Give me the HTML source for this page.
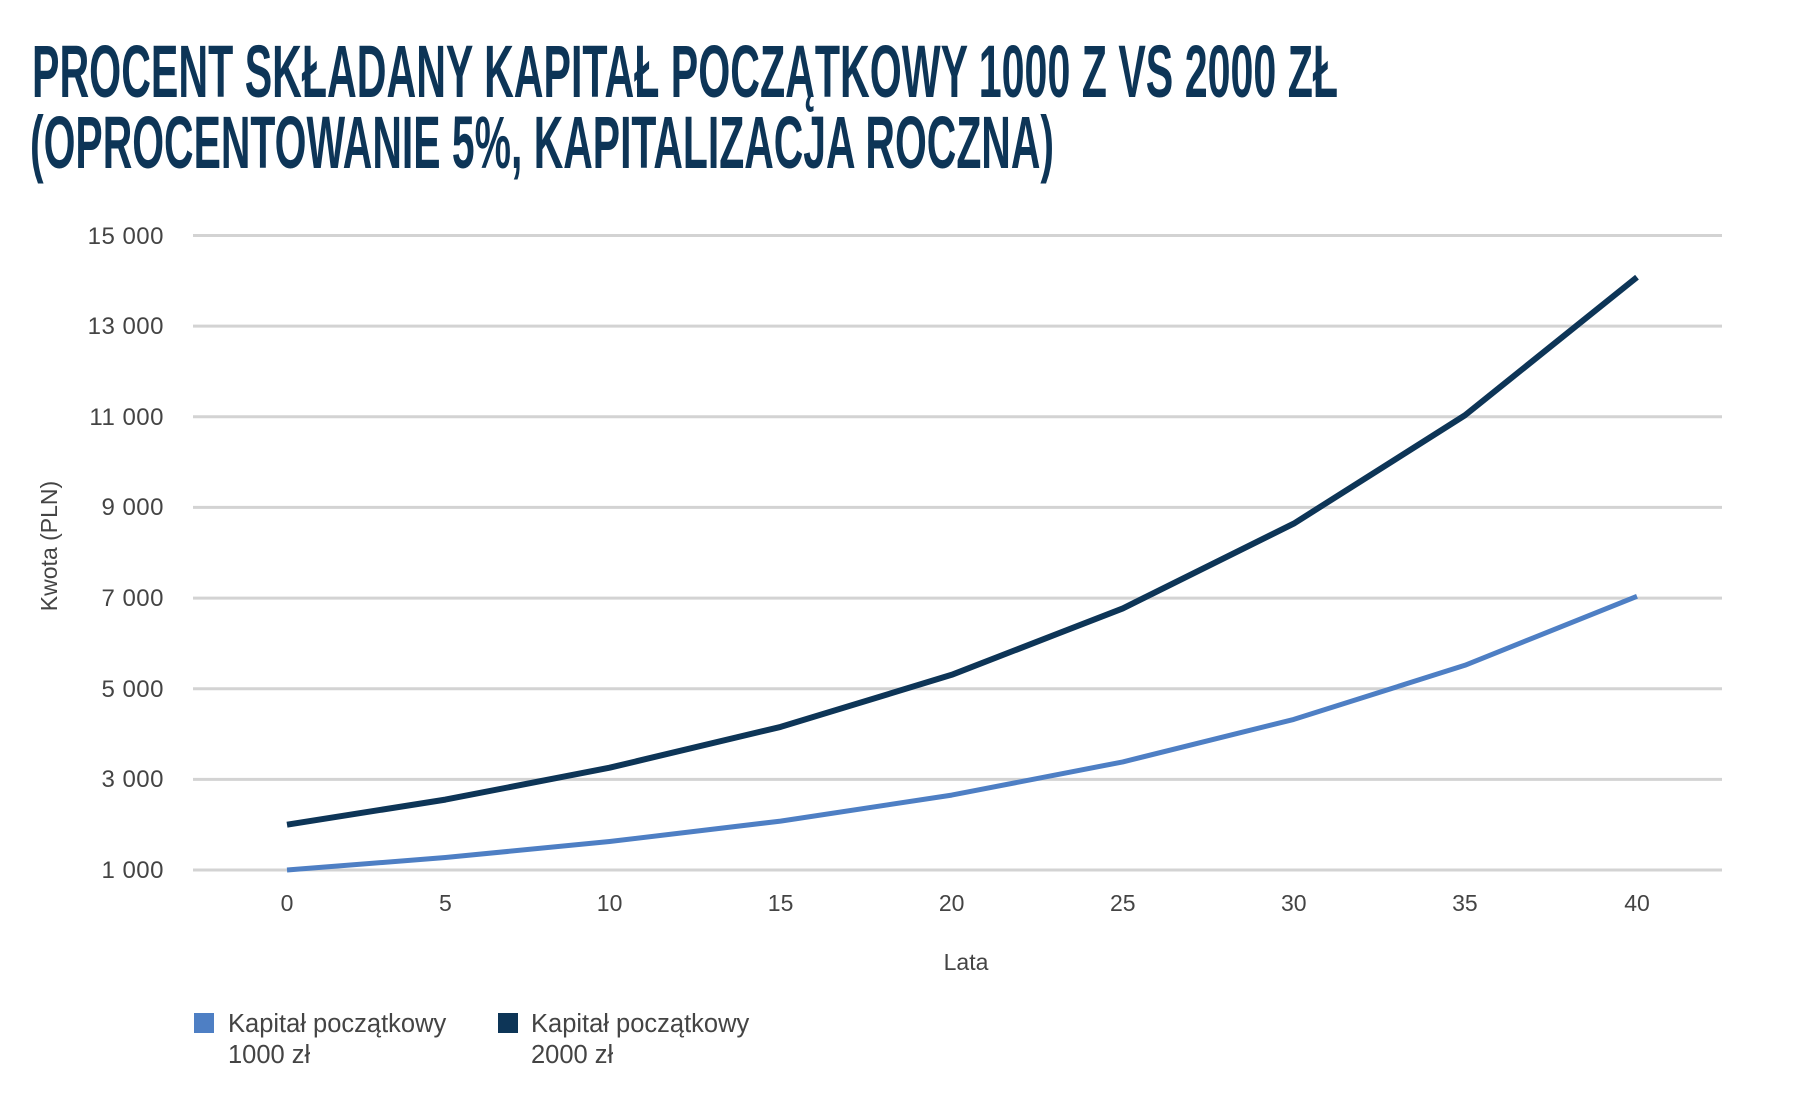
<!DOCTYPE html>
<html><head><meta charset="utf-8"><style>
html,body{margin:0;padding:0;background:#fff;}
svg{display:block}
</style></head><body>
<svg width="1800" height="1100" viewBox="0 0 1800 1100" xmlns="http://www.w3.org/2000/svg" font-family="Liberation Sans, DejaVu Sans, sans-serif">
<rect width="1800" height="1100" fill="#fff"/>
<g fill="#0d3557" font-weight="bold" font-size="74">
<text x="32" y="97" textLength="1306" lengthAdjust="spacingAndGlyphs">PROCENT SKŁADANY KAPITAŁ POCZĄTKOWY 1000 Z VS 2000 ZŁ</text>
<text x="30" y="168" textLength="1024" lengthAdjust="spacingAndGlyphs">(OPROCENTOWANIE 5%, KAPITALIZACJA ROCZNA)</text>
</g>
<g stroke="#d3d3d3" stroke-width="3">
<line x1="193" x2="1722" y1="235.5" y2="235.5"/>
<line x1="193" x2="1722" y1="326.1" y2="326.1"/>
<line x1="193" x2="1722" y1="416.8" y2="416.8"/>
<line x1="193" x2="1722" y1="507.4" y2="507.4"/>
<line x1="193" x2="1722" y1="598.1" y2="598.1"/>
<line x1="193" x2="1722" y1="688.7" y2="688.7"/>
<line x1="193" x2="1722" y1="779.4" y2="779.4"/>
<line x1="193" x2="1722" y1="870" y2="870"/>
</g>
<g fill="#444" font-size="24" text-anchor="end" letter-spacing="0.5">
<text x="164" y="244">15 000</text>
<text x="164" y="334">13 000</text>
<text x="164" y="425">11 000</text>
<text x="164" y="515">9 000</text>
<text x="164" y="606">7 000</text>
<text x="164" y="697">5 000</text>
<text x="164" y="787">3 000</text>
<text x="164" y="878">1 000</text>
</g>
<g fill="#444" font-size="23" text-anchor="middle">
<text x="287" y="911">0</text>
<text x="445.4" y="911">5</text>
<text x="609.6" y="911">10</text>
<text x="780.6" y="911">15</text>
<text x="951.7" y="911">20</text>
<text x="1122.8" y="911">25</text>
<text x="1293.8" y="911">30</text>
<text x="1464.9" y="911">35</text>
<text x="1637" y="911">40</text>
<text x="966" y="970">Lata</text>
<text transform="translate(57,546) rotate(-90)">Kwota (PLN)</text>
</g>
<polyline fill="none" stroke="#4e7fc4" stroke-width="5" stroke-linejoin="round" points="287,870 445.4,857.5 609.6,841.5 780.6,821.1 951.7,795.1 1122.8,761.9 1293.8,719.4 1464.9,665.3 1637,596.3"/>
<polyline fill="none" stroke="#0d3557" stroke-width="6" stroke-linejoin="round" points="287,824.7 445.4,799.6 609.6,767.7 780.6,726.9 951.7,674.8 1122.8,608.4 1293.8,523.6 1464.9,415.3 1637,277.2"/>
<rect x="194" y="1013" width="20" height="20" fill="#4e7fc4"/>
<rect x="498" y="1013" width="20" height="20" fill="#0d3557"/>
<g fill="#444" font-size="25.5">
<text x="228" y="1032">Kapitał początkowy</text>
<text x="228" y="1063">1000 zł</text>
<text x="531" y="1032">Kapitał początkowy</text>
<text x="531" y="1063">2000 zł</text>
</g>
</svg>
</body></html>
